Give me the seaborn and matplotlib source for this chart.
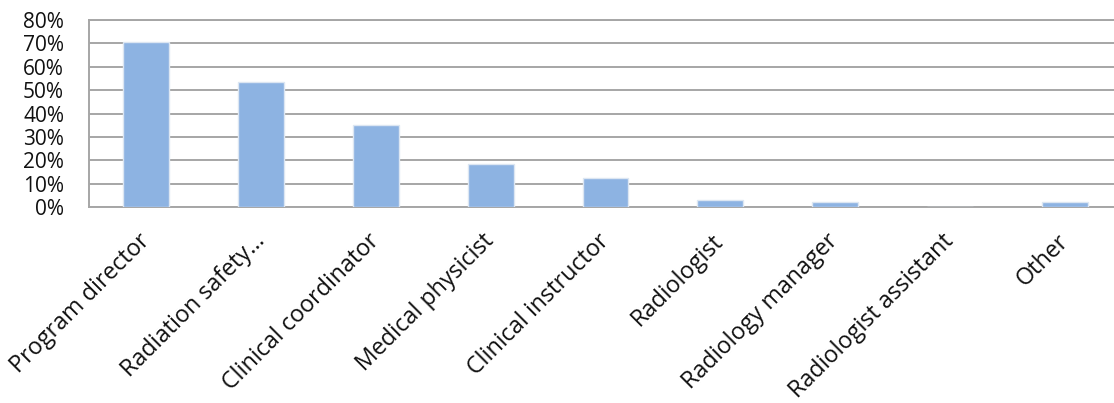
import matplotlib
matplotlib.use("Agg")
import matplotlib.pyplot as plt
from matplotlib.ticker import FuncFormatter, MultipleLocator
import pandas as pd
import seaborn as sns

roles = [
    "Program director",
    "Radiation safety\u2026",
    "Clinical coordinator",
    "Medical physicist",
    "Clinical instructor",
    "Radiologist",
    "Radiology manager",
    "Radiologist assistant",
    "Other",
]
share_pct = [70.6, 53.4, 35.2, 18.3, 12.7, 3.0, 2.4, 0.0, 2.4]

df = pd.DataFrame({"role": roles, "share": share_pct})

sns.set_theme(style="white")
plt.rcParams["font.family"] = ["Open Sans", "DejaVu Sans"]

W, H = 1114, 403
fig = plt.figure(figsize=(W / 100, H / 100), dpi=100)
left, right, bottom, top = 89, 1122, 207.3, 20
ax = fig.add_axes([left / W, (H - bottom) / H, (right - left) / W, (bottom - top) / H])

sns.barplot(data=df, x="role", y="share", color="#8DB3E2", width=0.4,
            saturation=1, edgecolor="#DCE6F2", linewidth=1.0, ax=ax, zorder=3)

ax.set_ylim(0, 80)
ax.set_xlim(-0.5, len(roles) - 0.5)
ax.yaxis.set_major_locator(MultipleLocator(10))
ax.yaxis.set_major_formatter(FuncFormatter(lambda v, _: f"{v:.0f}%"))
ax.grid(axis="y", color="#A6A6A6", linewidth=1.4, zorder=0)
ax.set_axisbelow(True)

for side in ("left", "top", "bottom"):
    ax.spines[side].set_visible(True)
    ax.spines[side].set_color("#A6A6A6")
    ax.spines[side].set_linewidth(1.4)
ax.spines["right"].set_visible(False)

ax.set_xlabel("")
ax.set_ylabel("")
ax.tick_params(axis="y", length=0, pad=18, labelsize=15, labelcolor="#111111")
ax.tick_params(axis="x", length=0, pad=22, labelsize=16.8, labelcolor="#111111")
for lbl in ax.get_xticklabels():
    lbl.set_rotation(45)
    lbl.set_ha("right")
    lbl.set_va("center")
    lbl.set_rotation_mode("anchor")

fig.savefig("out.png", dpi=100)
